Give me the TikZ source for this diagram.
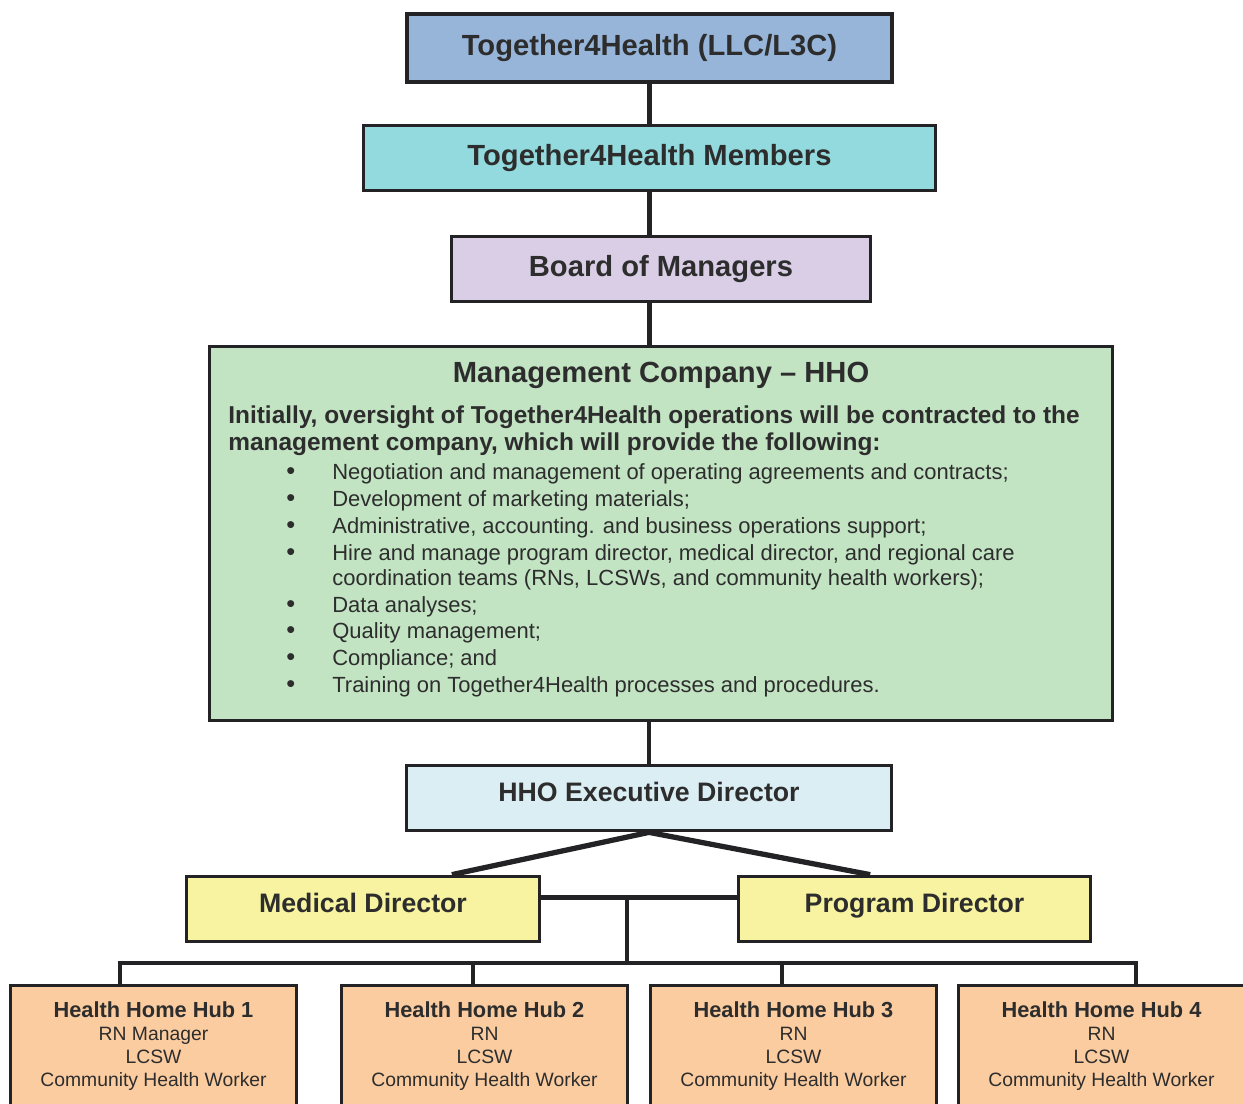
\documentclass[tikz,border=0pt]{standalone}
\usepackage{fontspec}
\setmainfont{Liberation Sans}
\usetikzlibrary{calc}

% one pixel of the layout
\def\px{0.5669pt}

\begin{document}
\begin{tikzpicture}[x=0.02cm,y=-0.02cm,
    box/.style={draw=boxline, line width=1.7pt, text=ink, inner sep=0pt},
    link/.style={draw=boxline, line width=2.5pt},
    bigfont/.style={font=\fontsize{16.6}{20}\selectfont\bfseries},
    midfont/.style={font=\fontsize{15.2}{18}\selectfont\bfseries, text height=10.9pt, text depth=6.5pt},
    listtext/.style={anchor=base west, text=ink, inner sep=0pt, font=\fontsize{12.5}{15}\selectfont}]

    % Define colors
    \definecolor{boxline}{RGB}{35,35,38}
    \definecolor{ink}{RGB}{45,45,45}
    \definecolor{llcblue}{RGB}{150,181,217}
    \definecolor{membercyan}{RGB}{146,218,222}
    \definecolor{boardlilac}{RGB}{217,206,229}
    \definecolor{mgmtgreen}{RGB}{194,228,195}
    \definecolor{execblue}{RGB}{219,238,244}
    \definecolor{diryellow}{RGB}{247,243,160}
    \definecolor{hubpeach}{RGB}{250,204,160}

    \useasboundingbox (0,0) rectangle (1243,1104);

    % Top of the chart
    \node[box, bigfont, fill=llcblue, line width=2.3pt, minimum width={487*\px}, minimum height={68*\px}] (llc) at (649.5,48) {Together4Health (LLC/L3C)};
    \node[box, bigfont, fill=membercyan, minimum width={575*\px}, minimum height={66*\px}] (members) at (649.5,158) {Together4Health Members};
    \node[box, bigfont, fill=boardlilac, minimum width={420*\px}, minimum height={66*\px}] (board) at (661,269) {Board of Managers};

    % Management company box
    \node[box, fill=mgmtgreen, minimum width={906*\px}, minimum height={375*\px}] (mgmt) at (661,533.5) {};
    \node[anchor=base, text=ink, inner sep=0pt, bigfont] (mgmttitle) at (661,383) {Management Company – HHO};
    \node[listtext, font=\fontsize{13.9}{16}\selectfont\bfseries] (intro1) at (228,423) {Initially, oversight of Together4Health operations will be contracted to the};
    \node[listtext, font=\fontsize{13.9}{16}\selectfont\bfseries] (intro2) at (228,450) {management company, which will provide the following:};
    \foreach \yy in {479,506,533,560,612,638,665,692}
        \node[listtext, font=\fontsize{14.5}{15}\selectfont] at (286,\yy) {•};
    \foreach \yy/\entry in {479/{Negotiation and management of operating agreements and contracts;},
                            506/{Development of marketing materials;},
                            533/{Administrative, accounting. and business operations support;},
                            560/{Hire and manage program director, medical director, and regional care},
                            585/{coordination teams (RNs, LCSWs, and community health workers);},
                            612/{Data analyses;},
                            638/{Quality management;},
                            665/{Compliance; and},
                            692/{Training on Together4Health processes and procedures.}}
        \node[listtext] at (332,\yy) {\entry};

    % Directors
    \node[box, midfont, fill=execblue, minimum width={486*\px}, minimum height={66*\px}] (exec) at (649,798) {HHO Executive Director};
    \node[box, midfont, fill=diryellow, minimum width={354*\px}, minimum height={66*\px}] (meddir) at (363,909) {Medical Director};
    \node[box, midfont, fill=diryellow, minimum width={353*\px}, minimum height={66*\px}] (progdir) at (914.5,909) {Program Director};

    % Hubs
    \tikzset{hub/.style={box, fill=hubpeach, align=center, minimum width={287*\px}, minimum height={122*\px},
        font=\fontsize{11}{13}\selectfont}}
    \node[hub] (hub1) at (153.5,1046) {{\fontsize{12.4}{13}\selectfont\bfseries Health Home Hub 1}\\RN Manager\\LCSW\\Community Health Worker};
    \node[hub] (hub2) at (484.5,1046) {{\fontsize{12.4}{13}\selectfont\bfseries Health Home Hub 2}\\RN\\LCSW\\Community Health Worker};
    \node[hub] (hub3) at (793.5,1046) {{\fontsize{12.4}{13}\selectfont\bfseries Health Home Hub 3}\\RN\\LCSW\\Community Health Worker};
    \node[hub] (hub4) at (1101.5,1046) {{\fontsize{12.4}{13}\selectfont\bfseries Health Home Hub 4}\\RN\\LCSW\\Community Health Worker};

    %-------------
    % Connectors
    \draw[link] (llc.south) -- (members.north);
    \draw[link] (members.south) -- (members.south |- board.north);
    \draw[link] (members.south |- board.south) -- (members.south |- mgmt.north);
    \draw[link] (exec.north |- mgmt.south) -- (exec.north);

    \draw[link, line width=3pt] (exec.south) -- ($(meddir.north)!0.5!(meddir.north east)$);
    \draw[link, line width=3pt] (exec.south) -- ($(progdir.north west)!0.75!(progdir.north)$);
    \draw[link] ($(meddir.north east)!0.33!(meddir.south east)$) coordinate (mdr) -- (mdr -| progdir.west);

    \coordinate (b1) at (120,963);
    \coordinate (b2) at (473,963);
    \coordinate (b3) at (782,963);
    \coordinate (b4) at (1136,963);
    \coordinate (tee) at (627,963);

    \draw[link] (tee |- mdr) -- (tee);
    \draw[link] (b1 |- hub1.north) -- (b1) -- (b4) -- (b4 |- hub4.north);
    \draw[link] (b2) -- (b2 |- hub2.north);
    \draw[link] (b3) -- (b3 |- hub3.north);

\end{tikzpicture}
\end{document}
